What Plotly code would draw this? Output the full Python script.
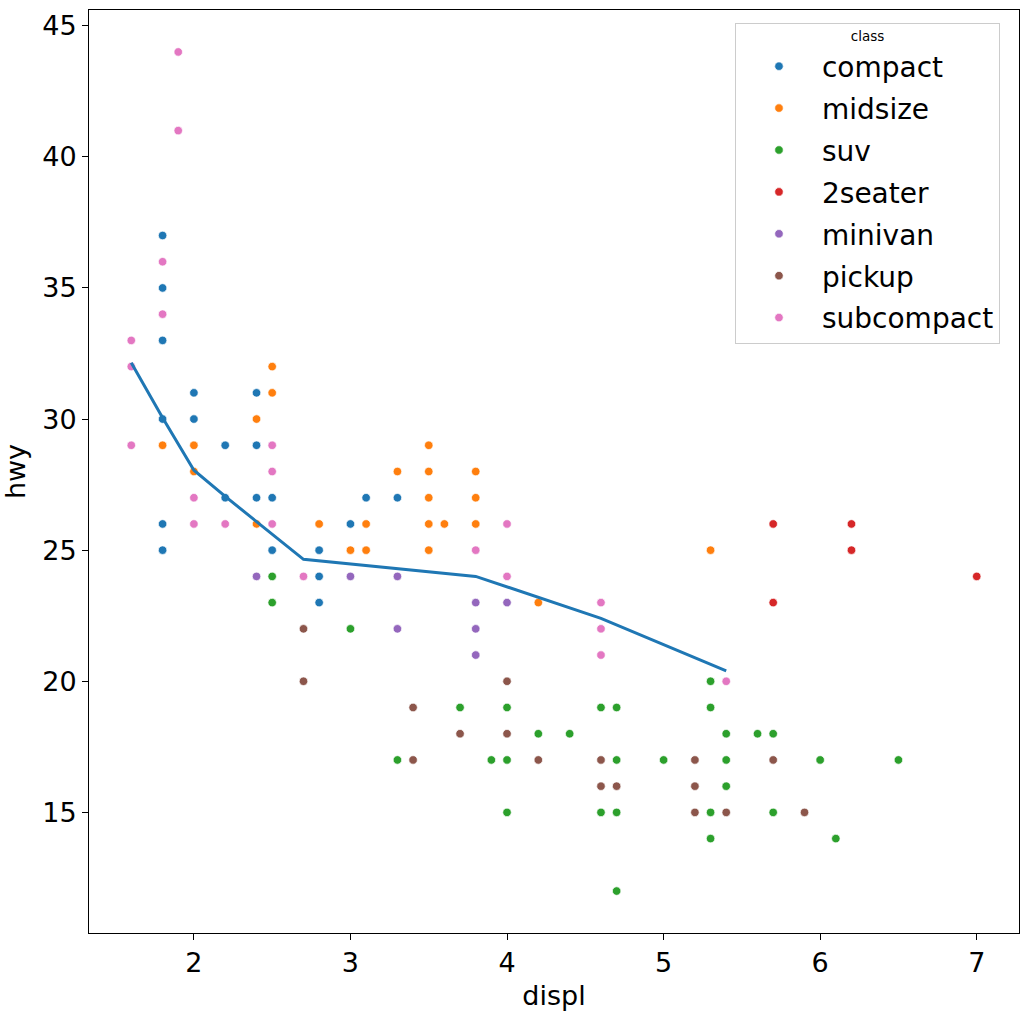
import plotly.graph_objects as go

# points, one list per class (displ, hwy)
compact_displ = [1.8, 1.8, 1.8, 1.8, 1.8, 1.8, 2.0, 2.0, 2.2, 2.2, 2.4, 2.4, 2.4, 2.5, 2.5, 2.8, 2.8, 2.8, 3.0, 3.1, 3.3]
compact_hwy = [37, 35, 33, 30, 26, 25, 31, 30, 29, 27, 31, 29, 27, 27, 25, 25, 24, 23, 26, 27, 27]

midsize_displ = [1.8, 2.0, 2.0, 2.4, 2.4, 2.5, 2.5, 2.8, 3.0, 3.1, 3.1, 3.3, 3.5, 3.5, 3.5, 3.5, 3.5, 3.6, 3.8, 3.8, 3.8, 4.2, 5.3]
midsize_hwy = [29, 29, 28, 30, 26, 32, 31, 26, 25, 26, 25, 28, 29, 28, 27, 26, 25, 26, 28, 27, 26, 23, 25]

suv_displ = [2.5, 2.5, 3.0, 3.3, 3.7, 3.9, 4.0, 4.0, 4.0, 4.2, 4.4, 4.6, 4.6, 4.7, 4.7, 4.7, 4.7, 5.0,
             5.3, 5.3, 5.3, 5.3, 5.4, 5.4, 5.4, 5.6, 5.7, 5.7, 6.0, 6.1, 6.5]
suv_hwy = [24, 23, 22, 17, 19, 17, 19, 17, 15, 18, 18, 19, 15, 19, 17, 15, 12, 17,
           20, 19, 15, 14, 18, 17, 16, 18, 18, 15, 17, 14, 17]

twoseater_displ = [5.7, 5.7, 6.2, 6.2, 7.0]
twoseater_hwy = [26, 23, 26, 25, 24]

minivan_displ = [2.4, 3.0, 3.3, 3.3, 3.8, 3.8, 3.8, 4.0]
minivan_hwy = [24, 24, 24, 22, 23, 22, 21, 23]

pickup_displ = [2.7, 2.7, 3.4, 3.4, 3.7, 4.0, 4.0, 4.2, 4.6, 4.6, 4.7, 5.2, 5.2, 5.2, 5.4, 5.7, 5.9]
pickup_hwy = [22, 20, 19, 17, 18, 20, 18, 17, 17, 16, 16, 17, 16, 15, 15, 17, 15]

subcompact_displ = [1.6, 1.6, 1.6, 1.8, 1.8, 1.9, 1.9, 2.0, 2.0, 2.2, 2.5, 2.5, 2.5, 2.7, 3.8, 4.0, 4.0, 4.6, 4.6, 4.6, 5.4]
subcompact_hwy = [33, 32, 29, 36, 34, 44, 41, 27, 26, 26, 29, 28, 26, 24, 25, 26, 24, 23, 22, 21, 20]

# the blue line
line_displ = [1.6, 1.8, 2.0, 2.2, 2.7, 3.8, 4.6, 5.4]
line_hwy = [32.15, 30.05, 28.05, 27.05, 24.65, 24.0, 22.4, 20.4]

classes = ["compact", "midsize", "suv", "2seater", "minivan", "pickup", "subcompact"]
xs = [compact_displ, midsize_displ, suv_displ, twoseater_displ, minivan_displ, pickup_displ, subcompact_displ]
ys = [compact_hwy, midsize_hwy, suv_hwy, twoseater_hwy, minivan_hwy, pickup_hwy, subcompact_hwy]
colors = ["#1f77b4", "#ff7f0e", "#2ca02c", "#d62728", "#9467bd", "#8c564b", "#e377c2"]

fig = go.Figure()
for name, x, y, c in zip(classes, xs, ys, colors):
    # one legend group per class so tracegroupgap spaces the rows out
    fig.add_trace(go.Scatter(x=x, y=y, mode="markers", name=name, legendgroup=name,
                             marker=dict(color=c, size=8.5, line=dict(color="white", width=0.7))))

fig.add_trace(go.Scatter(x=line_displ, y=line_hwy, mode="lines", showlegend=False,
                         line=dict(color="#1f77b4", width=3)))

axis_style = dict(showgrid=False, zeroline=False, showline=True, linecolor="black", linewidth=1,
                  mirror=True, ticks="outside", ticklen=6, tickcolor="black", automargin=False,
                  tickfont=dict(size=27, color="black"))

fig.update_xaxes(range=[1.33, 7.27], tickvals=[2, 3, 4, 5, 6, 7],
                 title=dict(text="displ", font=dict(size=27, color="black"), standoff=8), **axis_style)
fig.update_yaxes(range=[10.4, 45.6], tickvals=[15, 20, 25, 30, 35, 40, 45],
                 title=dict(text="hwy", font=dict(size=27, color="black"), standoff=8), **axis_style)

fig.update_layout(
    width=1029, height=1014,
    margin=dict(l=89, r=10, t=10, b=81),
    paper_bgcolor="white", plot_bgcolor="white",
    font=dict(family="DejaVu Sans", color="black"),
    legend=dict(title=dict(text="class", font=dict(size=13.5), side="top center"),
                x=0.6946, y=0.986, xanchor="left", yanchor="top",
                bgcolor="rgba(255,255,255,0.8)", bordercolor="#cccccc", borderwidth=1,
                font=dict(size=28), itemwidth=76, tracegroupgap=2.5),
)

# drop the browser's default body margin so the figure sits at the page corner
fig.write_html("out.html", config={"displayModeBar": False},
               post_script="document.body.style.margin='0';")
